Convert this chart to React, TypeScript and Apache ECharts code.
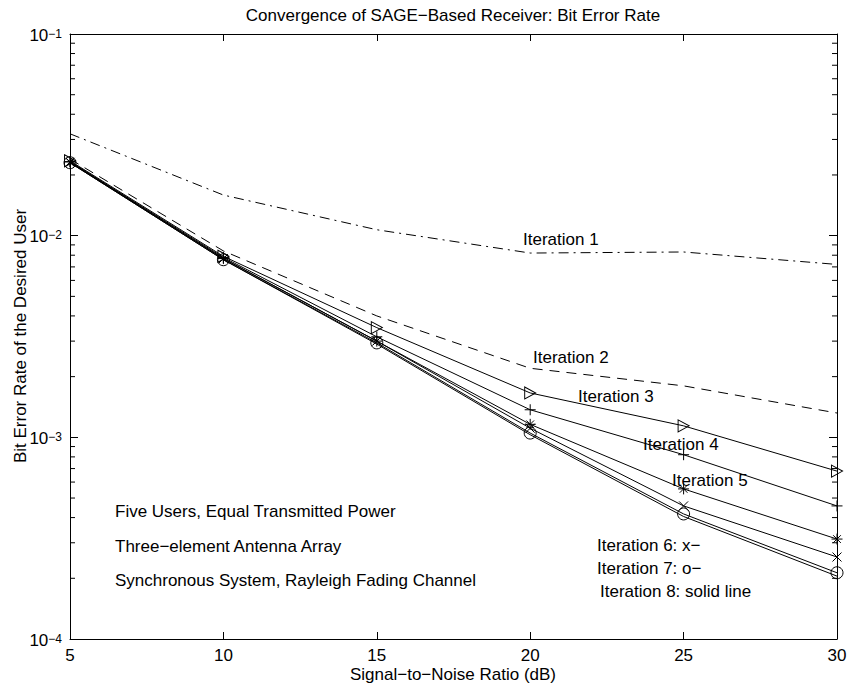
import React, { useEffect, useRef } from "react";
import * as echarts from "echarts";

const snr = [5, 10, 15, 20, 25, 30];
const iter1 = [0.032, 0.0159, 0.0107, 0.0082, 0.0083, 0.0072];
const iter2 = [0.024, 0.0084, 0.004, 0.0022, 0.0018, 0.00132];
const iter3 = [0.0235, 0.0079, 0.0035, 0.00166, 0.00114, 0.00068];
const iter4 = [0.0233, 0.0078, 0.00315, 0.00137, 0.00082, 0.000457];
const iter5 = [0.0232, 0.0077, 0.003, 0.00116, 0.000555, 0.000313];
const iter6 = [0.0231, 0.0077, 0.003, 0.00111, 0.000457, 0.000255];
const iter7 = [0.023, 0.0076, 0.00294, 0.00105, 0.000417, 0.000213];
const iter8 = [0.023, 0.0076, 0.0029, 0.00103, 0.000405, 0.000205];

const xTicks = [5, 10, 15, 20, 25, 30];
const decades = [-4, -3, -2];
const minorMultipliers = [2, 3, 4, 5, 6, 7, 8, 9];

const FONT = "'Liberation Sans', Arial, Helvetica, sans-serif";
const FS = 17;

const toPairs = (ys: number[]) => snr.map((x, i) => [x, ys[i]]);

export default function App() {
  const ref = useRef<HTMLDivElement>(null);
  useEffect(() => {
    if (!ref.current) return;
    const chart = echarts.init(ref.current, null, { renderer: "svg" });
    const minorVals: number[][] = [];
    decades.forEach((d) =>
      minorMultipliers.forEach((m) => minorVals.push([xTicks[0], m * Math.pow(10, d)]))
    );
    const black = "#000";
    const lineBase = (name: string, data: number[], extra: any) => ({
      name,
      type: "line",
      data: toPairs(data),
      xAxisIndex: 0,
      yAxisIndex: 0,
      lineStyle: { color: black, width: 1, ...(extra.lineStyle || {}) },
      itemStyle: { color: "none", borderColor: black, borderWidth: 1 },
      symbol: extra.symbol || "none",
      symbolSize: extra.symbolSize || 10,
      showSymbol: !!extra.symbol,
      z: 3,
    });
    const txt = (text: string, x: number, y: number, align = "left") => ({
      type: "text",
      x,
      y,
      silent: true,
      style: { text, font: `${FS}px ${FONT}`, fill: black, textAlign: align, textVerticalAlign: "middle" },
    });
    const option: any = {
      animation: false,
      backgroundColor: "#fff",
      textStyle: { fontFamily: FONT },
      grid: { left: 70, top: 34, right: 13, bottom: 50, containLabel: false },
      xAxis: [
        {
          type: "value",
          min: 5,
          max: 30,
          interval: 5,
          position: "bottom",
          axisLine: { lineStyle: { color: black, width: 1 } },
          axisTick: { inside: true, length: 7, lineStyle: { color: black } },
          splitLine: { show: false },
          axisLabel: { color: black, fontSize: FS, fontFamily: FONT, margin: 8 },
        },
        {
          type: "value",
          min: 5,
          max: 30,
          interval: 5,
          position: "top",
          axisLine: { lineStyle: { color: black, width: 1 } },
          axisTick: { inside: true, length: 7, lineStyle: { color: black } },
          splitLine: { show: false },
          axisLabel: { show: false },
        },
      ],
      yAxis: [
        {
          type: "log",
          logBase: 10,
          min: 1e-4,
          max: 1e-1,
          position: "left",
          axisLine: { show: true, lineStyle: { color: black, width: 1 } },
          axisTick: { show: true, inside: true, length: 8, lineStyle: { color: black } },
          splitLine: { show: false },
          axisLabel: {
            color: black,
            margin: 8,
            formatter: (v: number) => {
              const e = Math.round(Math.log10(v));
              return `{b|10}{s|${e < 0 ? "−" : ""}${Math.abs(e)}}`;
            },
            rich: {
              b: { fontSize: FS, fontFamily: FONT, lineHeight: 17, padding: [8, 0, 6, 0], color: black },
              s: { fontSize: 12, fontFamily: FONT, lineHeight: 12, padding: [2, 0, 0, 0], verticalAlign: "top", color: black },
            },
          },
        },
        {
          type: "log",
          logBase: 10,
          min: 1e-4,
          max: 1e-1,
          position: "right",
          axisLine: { show: true, lineStyle: { color: black, width: 1 } },
          axisTick: { show: true, inside: true, length: 8, lineStyle: { color: black } },
          splitLine: { show: false },
          axisLabel: { show: false },
        },
      ],
      series: [
        {
          type: "custom",
          name: "minorTicks",
          xAxisIndex: 0,
          yAxisIndex: 0,
          silent: true,
          clip: false,
          data: minorVals,
          encode: { x: 0, y: 1 },
          renderItem: (params: any, api: any) => {
            const v = api.value(1);
            const pL = api.coord([5, v]);
            const pR = api.coord([30, v]);
            return {
              type: "group",
              children: [
                { type: "line", shape: { x1: pL[0], y1: pL[1], x2: pL[0] + 5, y2: pL[1] }, style: { stroke: black, lineWidth: 1 } },
                { type: "line", shape: { x1: pR[0], y1: pR[1], x2: pR[0] - 5, y2: pR[1] }, style: { stroke: black, lineWidth: 1 } },
              ],
            };
          },
        },
        lineBase("Iteration 1", iter1, { lineStyle: { type: [10, 5, 2, 5] } }),
        lineBase("Iteration 2", iter2, { lineStyle: { type: [10, 7] } }),
        lineBase("Iteration 3", iter3, { symbol: "path://M0,0L10,6L0,12Z", symbolSize: [11, 12] }),
        lineBase("Iteration 4", iter4, { symbol: "path://M5,0L5,10M0,5L10,5", symbolSize: 11 }),
        lineBase("Iteration 5", iter5, {
          symbol: "path://M5,0L5,10M0,5L10,5M1.5,1.5L8.5,8.5M8.5,1.5L1.5,8.5",
          symbolSize: 11,
        }),
        lineBase("Iteration 6", iter6, { symbol: "path://M0,0L10,10M10,0L0,10", symbolSize: 9 }),
        lineBase("Iteration 7", iter7, { symbol: "circle", symbolSize: 12 }),
        lineBase("Iteration 8", iter8, {}),
      ],
      graphic: [
        txt("Convergence of SAGE−Based Receiver: Bit Error Rate", 453, 15, "center"),
        txt("Signal−to−Noise Ratio (dB)", 453, 674, "center"),
        {
          type: "text",
          x: 20,
          y: 336,
          rotation: Math.PI / 2,
          silent: true,
          style: { text: "Bit Error Rate of the Desired User", font: `${FS}px ${FONT}`, fill: black, textAlign: "center", textVerticalAlign: "middle" },
        },
        txt("Iteration 1", 523, 239),
        txt("Iteration 2", 533, 357),
        txt("Iteration 3", 578, 396),
        txt("Iteration 4", 643, 444),
        txt("Iteration 5", 672, 480),
        txt("Iteration 6: x−", 597, 545),
        txt("Iteration 7: o−", 597, 568),
        txt("Iteration 8: solid line", 600, 591),
        txt("Five Users, Equal Transmitted Power", 115, 511),
        txt("Three−element Antenna Array", 115, 546),
        txt("Synchronous System, Rayleigh Fading Channel", 115, 580),
      ],
    };
    chart.setOption(option);
    return () => chart.dispose();
  }, []);
  return (
    <div
      ref={ref}
      style={{ position: "absolute", left: 0, top: 0, width: 850, height: 689, background: "#fff" }}
    />
  );
}
